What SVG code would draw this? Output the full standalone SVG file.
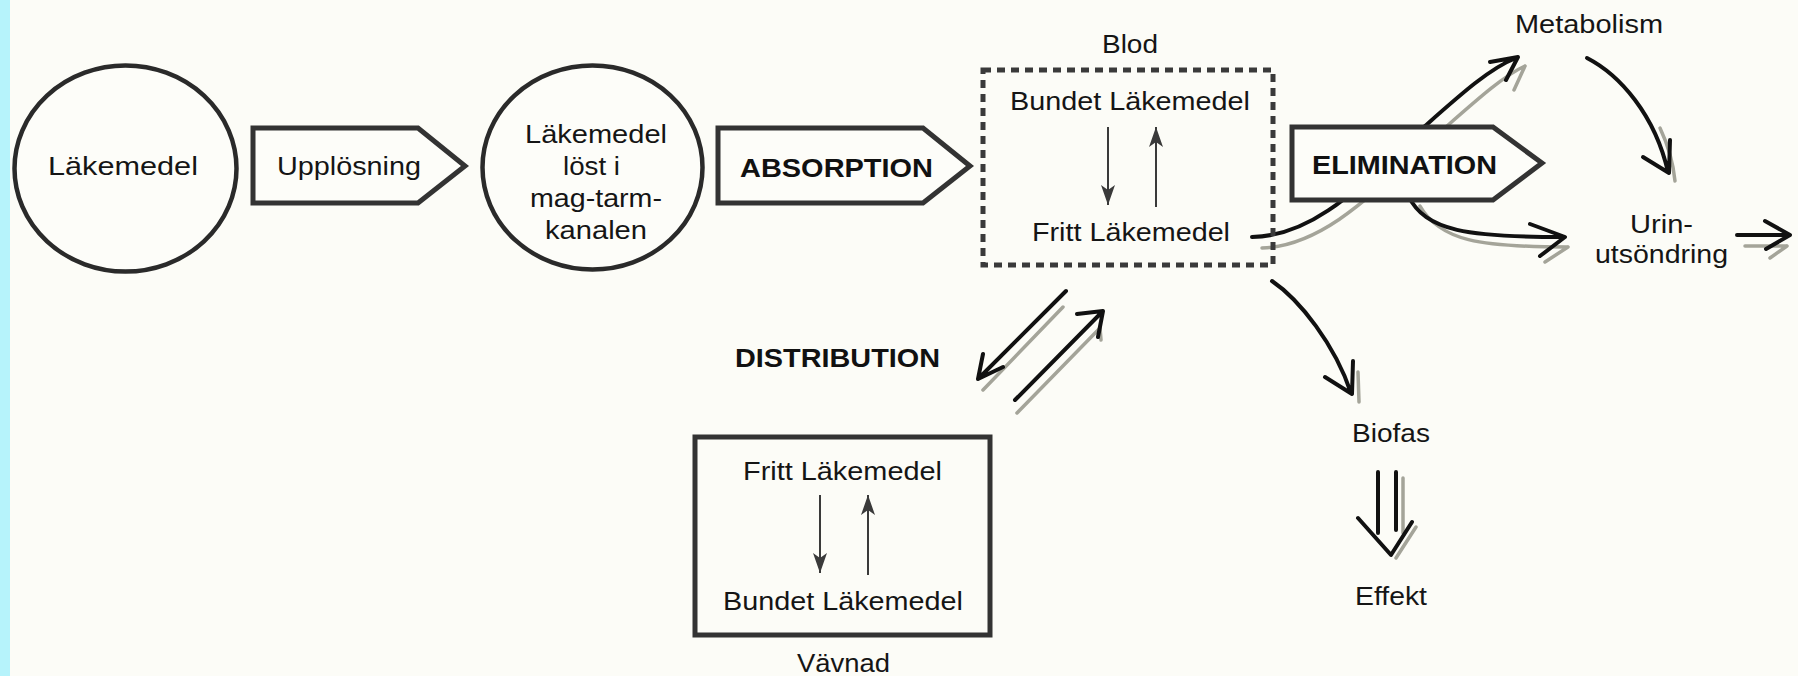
<svg xmlns="http://www.w3.org/2000/svg" width="1798" height="676" viewBox="0 0 1798 676">
<defs>
<style>
.t{font-family:"Liberation Sans",Arial,sans-serif;font-size:25px;fill:#151515;}
.b{font-family:"Liberation Sans",Arial,sans-serif;font-size:26px;font-weight:bold;fill:#111;}
.shape{fill:#fdfdf9;stroke:#333;stroke-width:5;stroke-linejoin:miter;}
.box{fill:none;stroke:#333;stroke-width:5;}
.circ{fill:#fdfdf9;stroke:#2a2a2a;stroke-width:4.5;}
.dash{fill:none;stroke:#3a3a3a;stroke-width:5;stroke-dasharray:8 6;}
.thin{fill:none;stroke:#3a3a3a;stroke-width:2;}
.ink{fill:none;stroke:#111;stroke-width:4;stroke-linecap:round;stroke-linejoin:round;}
.shd{fill:none;stroke:#a4a499;stroke-width:3.5;stroke-linecap:round;stroke-linejoin:round;}
</style>
<marker id="tip" viewBox="-22 -9 24 18" refX="0" refY="0" markerWidth="24" markerHeight="18" markerUnits="userSpaceOnUse" orient="auto">
<path d="M0,0 L-20,-7 L-15,0 L-20,7 Z" fill="#3a3a3a"/>
</marker>
</defs>
<rect x="0" y="0" width="1798" height="676" fill="#fcfcf7"/>
<rect x="0" y="0" width="10" height="676" fill="#b6f3fb"/>

<g id="connectors">
<!-- Fritt -> Metabolism -->
<path class="shd" d="M1262,248 C1330,246 1385,180 1447,126 C1480,97 1505,75 1525,66 M1525,66 L1514,90"/>
<path class="ink" d="M1252,237 C1320,236 1370,175 1425,126 C1460,95 1490,68 1516,58 M1490,62 L1518,57 L1506,80"/>
<!-- Elimination -> Urin -->
<path class="shd" d="M1420,206 C1440,241 1480,247 1568,247 M1568,247 L1545,262"/>
<path class="ink" d="M1408,195 C1425,232 1470,237 1563,237 M1530,224 L1565,237 L1540,256"/>
<!-- Metabolism -> Urin -->
<path class="shd" d="M1660,128 C1668,145 1673,160 1675,181"/>
<path class="ink" d="M1587,58 C1620,75 1655,115 1668,172 M1643,157 L1669,173 L1670,140"/>
<!-- Urin -> out -->
<path class="shd" d="M1745,246 L1787,246 M1787,246 L1770,258"/>
<path class="ink" d="M1737,235 L1789,235 M1765,221 L1790,235 L1766,249"/>
<!-- Blod -> Biofas -->
<path class="shd" d="M1358,372 L1359,402"/>
<path class="ink" d="M1272,281 C1300,300 1335,345 1351,393 M1325,377 L1352,394 L1353,361"/>
<!-- Biofas => Effekt -->
<path class="shd" d="M1403,478 L1403,533 M1416,527 L1396,558"/>
<path class="ink" d="M1378,472 L1378,533 M1396,472 L1396,530 M1358,518 L1391,555 L1412,522"/>
<!-- Distribution -->
<path class="shd" d="M1063,307 L983,390"/>
<path class="ink" d="M1066,291 L979,378 M983,354 L978,379 L1003,367"/>
<path class="shd" d="M1017,413 L1100,328 M1100,328 L1101,340"/>
<path class="ink" d="M1015,400 L1102,312 M1077,314 L1103,311 L1098,337"/>
<!-- inner equilibrium arrows -->
<line class="thin" x1="1108" y1="127" x2="1108" y2="205" marker-end="url(#tip)"/>
<line class="thin" x1="1156" y1="207" x2="1156" y2="127" marker-end="url(#tip)"/>
<line class="thin" x1="820" y1="495" x2="820" y2="573" marker-end="url(#tip)"/>
<line class="thin" x1="868" y1="575" x2="868" y2="495" marker-end="url(#tip)"/>
</g>

<g id="lakemedel">
<ellipse class="circ" cx="125.5" cy="168.5" rx="111" ry="103"/>
<text class="t" x="48" y="175" textLength="150" lengthAdjust="spacingAndGlyphs">Läkemedel</text>
</g>

<g id="upplosning">
<path class="shape" d="M253,128 L418,128 L465,166 L418,203 L253,203 Z"/>
<text class="t" x="277" y="175" textLength="144" lengthAdjust="spacingAndGlyphs">Upplösning</text>
</g>

<g id="lost">
<ellipse class="circ" cx="592.5" cy="167.5" rx="110" ry="102"/>
<text class="t" x="525" y="143" textLength="142" lengthAdjust="spacingAndGlyphs">Läkemedel</text>
<text class="t" x="563" y="175" textLength="57" lengthAdjust="spacingAndGlyphs">löst i</text>
<text class="t" x="530" y="207" textLength="132" lengthAdjust="spacingAndGlyphs">mag-tarm-</text>
<text class="t" x="545" y="239" textLength="102" lengthAdjust="spacingAndGlyphs">kanalen</text>
</g>

<g id="absorption">
<path class="shape" d="M718,128 L923,128 L970,166 L923,203 L718,203 Z"/>
<text class="b" x="740" y="177" textLength="193" lengthAdjust="spacingAndGlyphs">ABSORPTION</text>
</g>

<g id="blod">
<text class="t" x="1102" y="53" textLength="56" lengthAdjust="spacingAndGlyphs">Blod</text>
<rect class="dash" x="983" y="70" width="290" height="195"/>
<text class="t" x="1010" y="110" textLength="240" lengthAdjust="spacingAndGlyphs">Bundet Läkemedel</text>
<text class="t" x="1032" y="241" textLength="198" lengthAdjust="spacingAndGlyphs">Fritt Läkemedel</text>
</g>

<g id="elimination">
<path class="shape" d="M1292,127 L1493,127 L1542,163 L1493,200 L1292,200 Z"/>
<text class="b" x="1312" y="174" textLength="185" lengthAdjust="spacingAndGlyphs">ELIMINATION</text>
</g>

<g id="metabolism">
<text class="t" x="1515" y="33" textLength="148" lengthAdjust="spacingAndGlyphs">Metabolism</text>
</g>

<g id="urin">
<text class="t" x="1630" y="233" textLength="63" lengthAdjust="spacingAndGlyphs">Urin-</text>
<text class="t" x="1595" y="263" textLength="133" lengthAdjust="spacingAndGlyphs">utsöndring</text>
</g>

<g id="distribution">
<text class="b" x="735" y="367" textLength="205" lengthAdjust="spacingAndGlyphs">DISTRIBUTION</text>
</g>

<g id="vavnad">
<rect class="box" x="695" y="437" width="295" height="198"/>
<text class="t" x="743" y="480" textLength="199" lengthAdjust="spacingAndGlyphs">Fritt Läkemedel</text>
<text class="t" x="723" y="610" textLength="240" lengthAdjust="spacingAndGlyphs">Bundet Läkemedel</text>
<text class="t" x="797" y="672" textLength="93" lengthAdjust="spacingAndGlyphs">Vävnad</text>
</g>

<g id="biofas">
<text class="t" x="1352" y="442" textLength="78" lengthAdjust="spacingAndGlyphs">Biofas</text>
</g>

<g id="effekt">
<text class="t" x="1355" y="605" textLength="72" lengthAdjust="spacingAndGlyphs">Effekt</text>
</g>
</svg>
